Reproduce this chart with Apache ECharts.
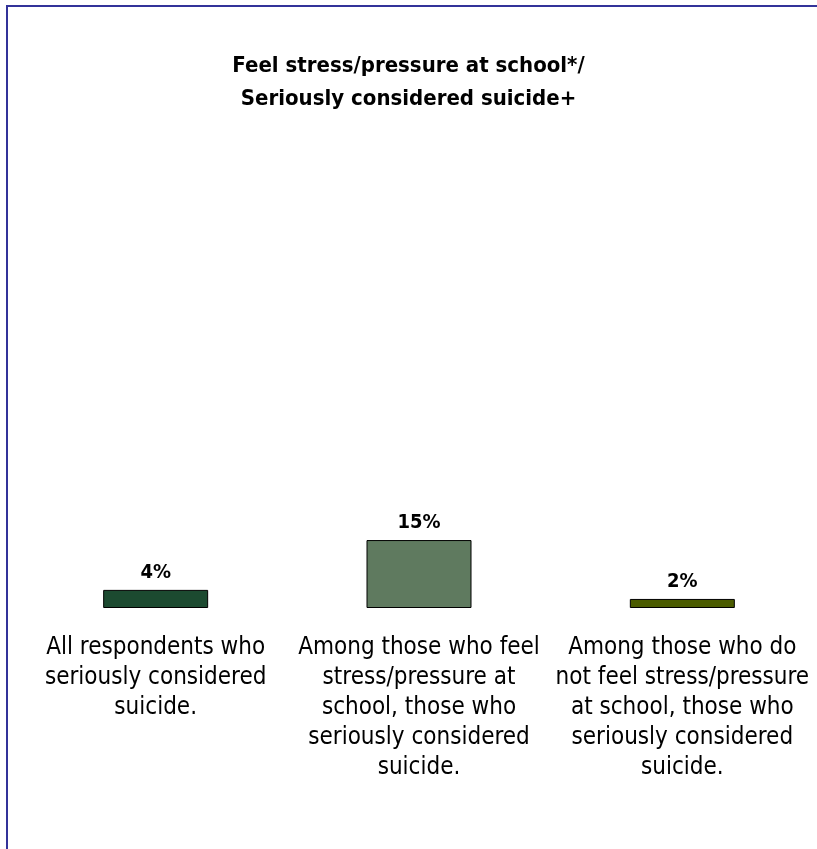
<!DOCTYPE html>
<html>
<head>
<meta charset="utf-8">
<script src="https://cdn.jsdelivr.net/npm/echarts@6/dist/echarts.min.js"></script>
<style>
html,body{margin:0;padding:0;background:#fff;}
#chart{width:817px;height:849px;}
</style>
</head>
<body>
<div id="chart"></div>
<script>
const titleText = "Feel stress/pressure at school*/\nSeriously considered suicide+";
const categories = [
  "All respondents who\nseriously considered\nsuicide.",
  "Among those who feel\nstress/pressure at\nschool, those who\nseriously considered\nsuicide.",
  "Among those who do\nnot feel stress/pressure\nat school, those who\nseriously considered\nsuicide."
];
const values = [4, 15, 2];
const barColors = ["#1c4a30", "#5f7a5f", "#4b5c00"];

const FONT = "'Liberation Sans Narrow', 'Arial Narrow', 'DejaVu Sans Condensed', sans-serif";
const chart = echarts.init(document.getElementById('chart'), null, {renderer: 'canvas'});
chart.setOption({
  animation: false,
  backgroundColor: '#ffffff',
  graphic: [
    {type: 'rect', shape: {x: 6, y: 5, width: 2, height: 900}, style: {fill: '#333399'}, silent: true},
    {type: 'rect', shape: {x: 6, y: 5, width: 900, height: 2}, style: {fill: '#333399'}, silent: true}
  ],
  title: {
    text: titleText,
    left: 'center',
    top: 45,
    textStyle: {fontFamily: FONT, fontWeight: 'bold', fontSize: 22, lineHeight: 33, color: '#000'}
  },
  grid: {left: 24, width: 790, top: 155, height: 453, containLabel: false},
  xAxis: {
    type: 'category',
    data: categories,
    axisLine: {show: false},
    axisTick: {show: false},
    axisLabel: {interval: 0, margin: 25, fontFamily: FONT, fontSize: 24, lineHeight: 30, color: '#000', align: 'center'}
  },
  yAxis: {
    type: 'value',
    min: 0, max: 100,
    show: false,
    splitLine: {show: false}
  },
  series: [{
    type: 'bar',
    barWidth: 105,
    data: values.map((v, i) => ({value: v, itemStyle: {color: barColors[i]}})),
    itemStyle: {borderColor: '#000', borderWidth: 1},
    label: {
      show: true, position: 'top', distance: 7,
      formatter: p => p.value + '%',
      fontFamily: FONT, fontWeight: 'bold', fontSize: 20, color: '#000'
    }
  }]
});
</script>
</body>
</html>
